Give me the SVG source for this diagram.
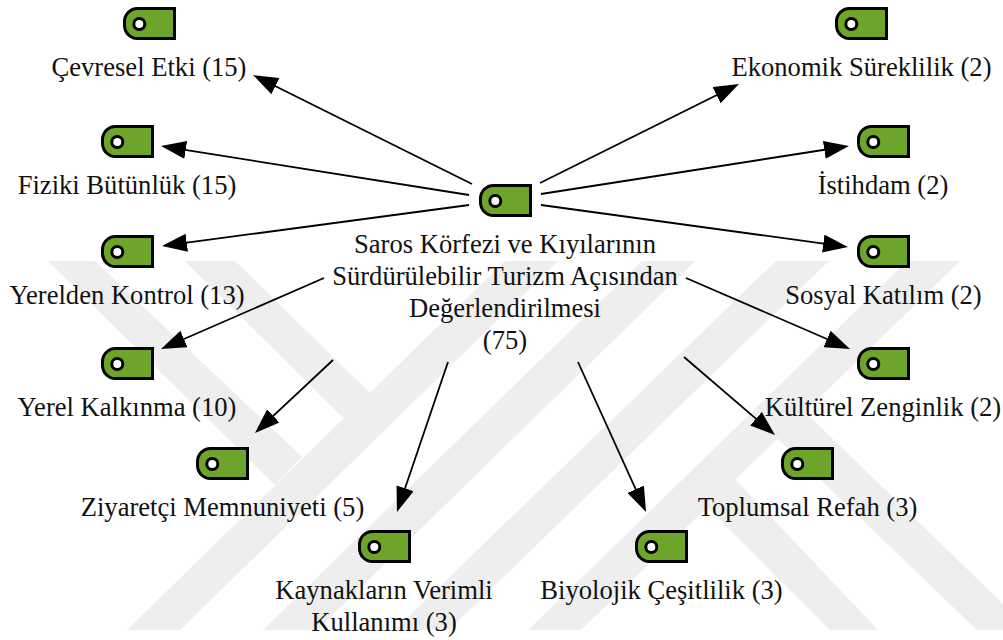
<svg xmlns="http://www.w3.org/2000/svg" width="1003" height="640" viewBox="0 0 1003 640">
<style>
text{font-family:"Liberation Serif","Times New Roman",serif;font-size:26.6px;fill:#111;text-anchor:middle}
.wm{fill:#eee}
.c line{stroke:#000;stroke-width:1.8;fill:none;marker-end:url(#ah)}
</style>
<defs>
<marker id="ah" markerUnits="userSpaceOnUse" viewBox="0 0 25 18" refX="15" refY="9" markerWidth="25" markerHeight="18" orient="auto"><path d="M0 0L25 9L0 18Z" fill="#000"/></marker>
<g id="tag">
<path d="M14.5 1.5H51.5V31.5H14.5A13 13 0 0 1 1.5 18.5V14.5A13 13 0 0 1 14.5 1.5Z" fill="#6ca529" stroke="#000" stroke-width="3"/>
<circle cx="16.3" cy="17" r="5.5" fill="#fff" stroke="#000" stroke-width="3"/>
</g>
</defs>
<rect width="1003" height="640" fill="#fff"/>
<g id="watermark" class="wm">
<polygon points="48,261 95,261 302,457 275,485"/>
<polygon points="185,261 235,261 372,395 345,420"/>
<polygon points="127,630 180,630 558,261 505,261"/>
<polygon points="263,630 317,630 695,261 642,261"/>
<polygon points="395,630 449,630 829,261 776,261"/>
<polygon points="528,630 581,630 960,261 907,261"/>
<polygon points="706,506 735,479 878,630 830,630"/>
<polygon points="775,436 803,410 1003,604 1003,630 977,630"/>
</g>
<g id="connectors" class="c">
<line x1="472" y1="184" x2="262" y2="79.5"/>
<line x1="469" y1="195" x2="170.9" y2="147.6"/>
<line x1="469" y1="205" x2="171.9" y2="244.7"/>
<line x1="324" y1="278" x2="170.2" y2="345"/>
<line x1="333" y1="360" x2="262.3" y2="426.2"/>
<line x1="448" y1="362" x2="400.2" y2="502.5"/>
<line x1="578" y1="362" x2="641.9" y2="502.9"/>
<line x1="684" y1="357" x2="767.4" y2="428.5"/>
<line x1="686" y1="278" x2="840.8" y2="345"/>
<line x1="541" y1="205" x2="838.1" y2="245.6"/>
<line x1="541" y1="194" x2="839.1" y2="147.5"/>
<line x1="540" y1="183" x2="730" y2="88.5"/>
</g>
<g id="n-center"><use href="#tag" x="479" y="184"/><text x="505" y="253">Saros Körfezi ve Kıyılarının</text><text x="505" y="285">Sürdürülebilir Turizm Açısından</text><text x="505" y="317">Değerlendirilmesi</text><text x="505" y="349">(75)</text></g>
<g id="n-cevresel"><use href="#tag" x="123" y="7"/><text x="149" y="76">Çevresel Etki (15)</text></g>
<g id="n-fiziki"><use href="#tag" x="101" y="125"/><text x="127" y="194">Fiziki Bütünlük (15)</text></g>
<g id="n-yerelden"><use href="#tag" x="101" y="235"/><text x="127" y="304">Yerelden Kontrol (13)</text></g>
<g id="n-yerel"><use href="#tag" x="101" y="347"/><text x="127" y="416">Yerel Kalkınma (10)</text></g>
<g id="n-ziyaretci"><use href="#tag" x="196" y="447"/><text x="222.5" y="516">Ziyaretçi Memnuniyeti (5)</text></g>
<g id="n-kaynak"><use href="#tag" x="358" y="530"/><text x="384" y="599">Kaynakların Verimli</text><text x="384" y="631">Kullanımı (3)</text></g>
<g id="n-biyolojik"><use href="#tag" x="635" y="530"/><text x="661.5" y="599">Biyolojik Çeşitlilik (3)</text></g>
<g id="n-toplumsal"><use href="#tag" x="781" y="447"/><text x="807.5" y="516">Toplumsal Refah (3)</text></g>
<g id="n-kulturel"><use href="#tag" x="857" y="347"/><text x="883" y="416">Kültürel Zenginlik (2)</text></g>
<g id="n-sosyal"><use href="#tag" x="857" y="235"/><text x="883.5" y="304">Sosyal Katılım (2)</text></g>
<g id="n-istihdam"><use href="#tag" x="857" y="125"/><text x="883" y="194">İstihdam (2)</text></g>
<g id="n-ekonomik"><use href="#tag" x="835" y="7"/><text x="861.5" y="76">Ekonomik Süreklilik (2)</text></g>
</svg>
